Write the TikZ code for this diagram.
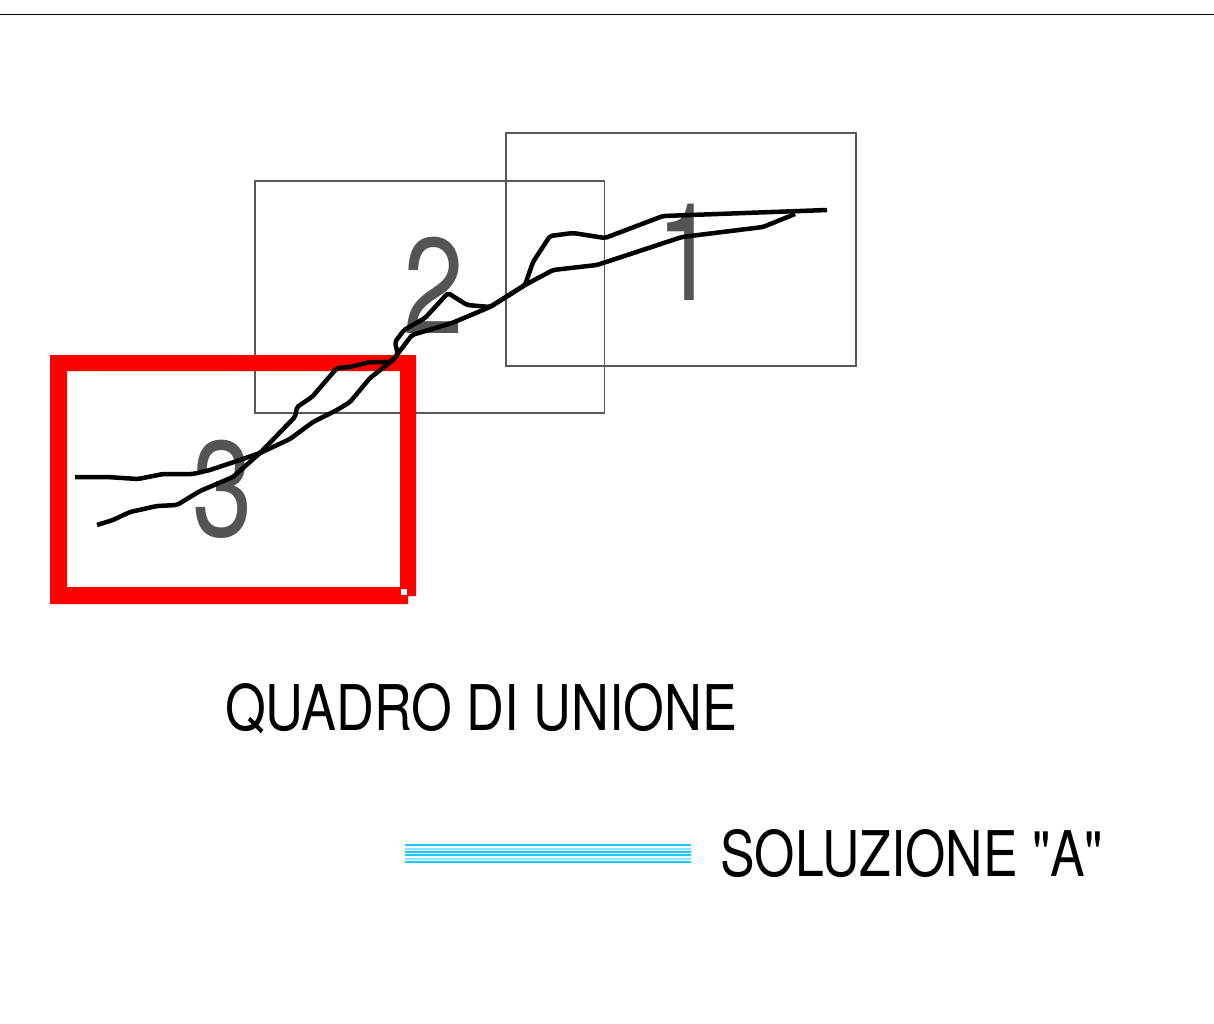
\documentclass[tikz,border=0pt]{standalone}
\usepackage{fontspec}
\newfontfamily\cadfont{TeX Gyre Heros}
\tikzset{
  sheet/.style={draw=black!65,line width=1.1pt},
  digit/.style={text=black!67,font=\cadfont\fontsize{136}{136}\selectfont,inner sep=0pt,anchor=center,xscale=.8},
  caption/.style={text=black,font=\cadfont\fontsize{63}{63}\selectfont,inner sep=0pt,anchor=west},
  route/.style={draw=black,line width=4.5pt,line join=round,line cap=butt,rounded corners=2pt}
}
\definecolor{bandc}{HTML}{19C8FF}
\definecolor{bandl}{HTML}{8FE3FF}
\begin{document}
\begin{tikzpicture}[x=1pt,y=-1pt]
\useasboundingbox (0,0) rectangle (1214,1023);
\fill[white] (0,0) rectangle (1214,1023);
\draw[black,line width=1.3pt] (0,14.5) -- (1214,14.5);
% sheets
\draw[sheet] (506,133) rectangle (856,366);
\draw[sheet] (255,181) rectangle (604.5,413);
% digits
\node[digit] (d1) at (687,252) {1};
\node[digit] (d2) at (434,285) {2};
\node[digit] (d3) at (223,489) {3};
% red frame
\fill[red,even odd rule] (50,355) -- (416,355) -- (416,596) -- (408,596) -- (408,604) -- (50,604) -- cycle
  (67,371) rectangle (400,587);
\fill[white] (401,589) rectangle (407,595);
% route
\draw[route] (75,477) -- (107,477) -- (138,479) -- (163,474) -- (193,474) -- (210,470) -- (237,461) -- (260,453)
 -- (290,422) -- (295,417) -- (297,407) -- (312,397) -- (337,368) -- (350,367) -- (370,362) -- (390,362) -- (398,355)
 -- (395,342) -- (404,330) -- (425,318) -- (448,293) -- (467,305) -- (490,307) -- (525,285) -- (533,262) -- (550,236)
 -- (573,233) -- (605,238) -- (663,216) -- (827,210);
\draw[route] (97,525) -- (113,520) -- (130,512) -- (157,506) -- (177,505) -- (200,491) -- (233,477) -- (260,453)
 -- (290,439) -- (313,422) -- (337,410) -- (350,402) -- (370,378) -- (393,360) -- (412,335) -- (452,323) -- (490,307)
 -- (525,285) -- (553,270) -- (597,265) -- (682,237) -- (763,227) -- (795,214);
% captions
\node[caption,xscale=.831] (title) at (225,709) {QUADRO DI UNIONE};
\node[caption,xscale=.822] (sol) at (720,854) {SOLUZIONE "A"};
% legend band
\foreach \y in {845,852,855,862} \draw[bandc,line width=2.6pt] (405,\y) -- (691,\y);
\foreach \y in {849,859} \draw[bandl,line width=2.6pt] (405,\y) -- (691,\y);
\end{tikzpicture}
\end{document}
